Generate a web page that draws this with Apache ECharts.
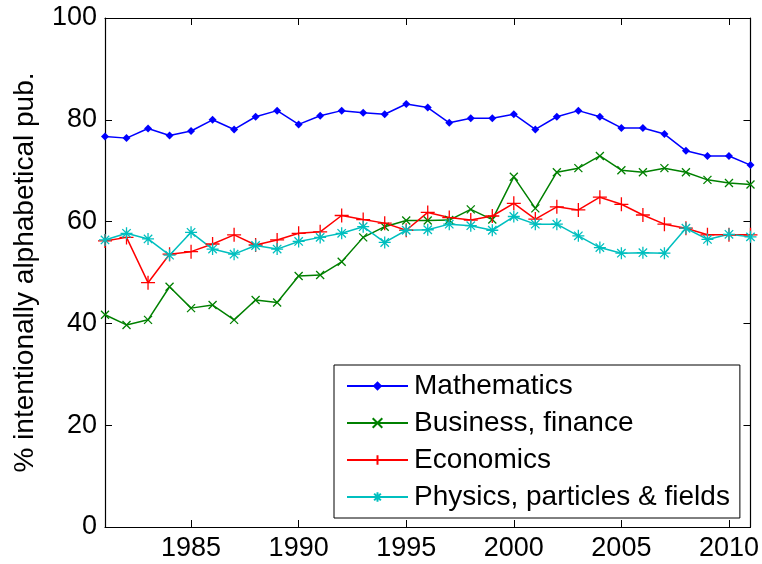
<!DOCTYPE html>
<html>
<head>
<meta charset="utf-8">
<script src="https://cdn.jsdelivr.net/npm/echarts@6/dist/echarts.min.js"></script>
<style>
  html, body { margin: 0; padding: 0; background: #fff; }
  #chart { width: 762px; height: 564px; }
</style>
</head>
<body>
<div id="chart"></div>
<script>
var years = [1981, 1982, 1983, 1984, 1985, 1986, 1987, 1988, 1989, 1990,
  1991, 1992, 1993, 1994, 1995, 1996, 1997, 1998, 1999, 2000,
  2001, 2002, 2003, 2004, 2005, 2006, 2007, 2008, 2009, 2010, 2011];
var mathematics = [76.7, 76.4, 78.3, 76.9, 77.8, 80.0, 78.1, 80.6, 81.8, 79.1,
  80.8, 81.8, 81.4, 81.1, 83.1, 82.4, 79.4, 80.3, 80.3, 81.1,
  78.1, 80.6, 81.8, 80.6, 78.4, 78.4, 77.2, 73.9, 72.9, 72.9, 71.1];
var business = [41.7, 39.7, 40.7, 47.2, 43.0, 43.6, 40.7, 44.6, 44.1, 49.3,
  49.5, 52.1, 56.9, 59.0, 60.2, 60.2, 60.3, 62.4, 60.4, 68.8,
  62.6, 69.7, 70.5, 72.9, 70.1, 69.7, 70.5, 69.7, 68.2, 67.6, 67.3];
var economics = [56.2, 56.9, 48.0, 53.6, 54.1, 55.6, 57.4, 55.4, 56.4, 57.7,
  58.0, 61.2, 60.4, 59.7, 58.3, 61.8, 60.8, 60.3, 61.1, 63.6,
  60.5, 62.9, 62.3, 64.8, 63.4, 61.3, 59.5, 58.7, 57.4, 57.4, 57.4];
var physics = [56.4, 57.7, 56.6, 53.4, 57.9, 54.6, 53.6, 55.3, 54.6, 56.1,
  56.9, 57.7, 59.0, 55.9, 58.3, 58.4, 59.5, 59.2, 58.3, 61.0,
  59.5, 59.5, 57.2, 54.9, 53.8, 53.9, 53.8, 58.7, 56.5, 57.5, 57.0];
var xTicks = [1985, 1990, 1995, 2000, 2005, 2010];
var seriesNames = ['Mathematics', 'Business, finance', 'Economics', 'Physics, particles & fields'];

var FONT = '"Liberation Sans", Arial, sans-serif';
var crossPath = 'path://M0,0L10,10M10,0L0,10';
var plusPath = 'path://M5,0L5,10M0,5L10,5';
var starPath = 'path://M5,0L5,10M0,5L10,5M1.5,1.5L8.5,8.5M8.5,1.5L1.5,8.5';

function pairs(vals) {
  return years.map(function (y, i) { return [y, vals[i]]; });
}

function makeSeries(name, vals, color, symbol, size, filled) {
  return {
    name: name,
    type: 'line',
    data: pairs(vals),
    symbol: symbol,
    symbolSize: size,
    showAllSymbol: true,
    lineStyle: { color: color, width: 1.5 },
    itemStyle: filled
      ? { color: color, borderColor: color, borderWidth: 0 }
      : { color: 'none', borderColor: color, borderWidth: 1.3 },
    emphasis: { disabled: true },
    animation: false
  };
}

var chart = echarts.init(document.getElementById('chart'), null, { renderer: 'canvas' });

var tickStyle = { show: true, inside: true, length: 7, lineStyle: { color: '#000', width: 1 } };
var axisLine = { show: true, onZero: false, lineStyle: { color: '#000', width: 1.2 } };

chart.setOption({
  backgroundColor: '#fff',
  animation: false,
  grid: { left: 105, right: 10, top: 18, bottom: 37, containLabel: false },
  xAxis: [{
    type: 'value',
    min: 1981,
    max: 2011,
    axisLine: axisLine,
    axisTick: Object.assign({ customValues: xTicks }, tickStyle),
    axisLabel: {
      customValues: xTicks,
      margin: 8,
      color: '#000',
      fontFamily: FONT,
      fontSize: 27,
      formatter: function (v) { return String(v); }
    },
    splitLine: { show: false }
  }, {
    type: 'value',
    position: 'top',
    min: 1981,
    max: 2011,
    axisLine: axisLine,
    axisTick: Object.assign({ customValues: xTicks }, tickStyle),
    axisLabel: { show: false },
    splitLine: { show: false }
  }],
  yAxis: [{
    type: 'value',
    min: 0,
    max: 100,
    interval: 20,
    name: '% intentionally alphabetical pub.',
    nameLocation: 'middle',
    nameRotate: 90,
    nameGap: 66,
    nameTextStyle: { color: '#000', fontFamily: FONT, fontSize: 28 },
    axisLine: axisLine,
    axisTick: tickStyle,
    axisLabel: { margin: 8, color: '#000', fontFamily: FONT, fontSize: 27 },
    splitLine: { show: false }
  }, {
    type: 'value',
    position: 'right',
    min: 0,
    max: 100,
    interval: 20,
    axisLine: axisLine,
    axisTick: tickStyle,
    axisLabel: { show: false },
    splitLine: { show: false }
  }],
  legend: {
    orient: 'vertical',
    left: 334,
    top: 365,
    width: 409,
    padding: [7, 10, 7, 12],
    itemGap: 9,
    itemWidth: 61,
    itemHeight: 12,
    borderColor: '#000',
    borderWidth: 1,
    backgroundColor: '#fff',
    selectedMode: false,
    data: seriesNames,
    textStyle: { color: '#000', fontFamily: FONT, fontSize: 28, padding: [0, 0, 0, 1] }
  },
  series: [
    makeSeries(seriesNames[0], mathematics, '#0000ff', 'diamond', 8, true),
    makeSeries(seriesNames[1], business, '#008000', crossPath, 8, false),
    makeSeries(seriesNames[2], economics, '#ff0000', plusPath, 14, false),
    makeSeries(seriesNames[3], physics, '#00bfbf', starPath, 12, false)
  ]
});
</script>
</body>
</html>
